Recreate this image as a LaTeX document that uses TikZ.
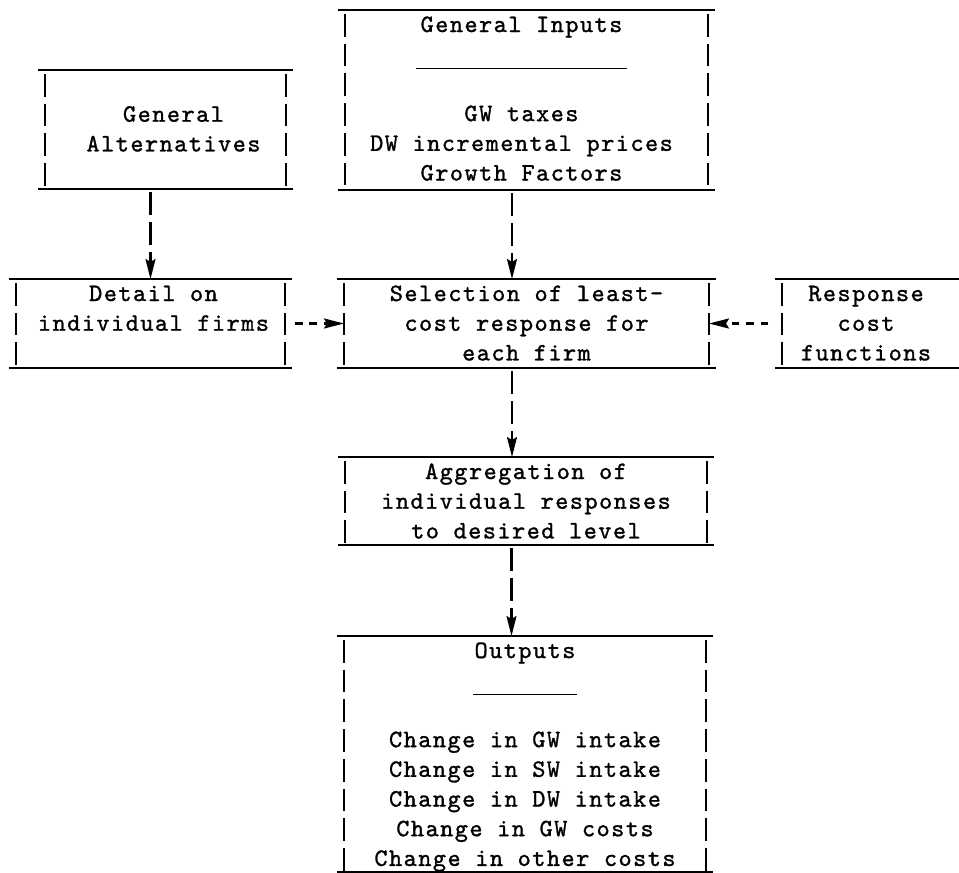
\documentclass[tikz,border=0pt]{standalone}
\usepackage{fontspec}
\newfontfamily\tw{lmmono10-regular.otf}[LetterSpace=6,FakeBold=1.2]
\usetikzlibrary{arrows.meta}
\tikzset{
  boxn/.style={rectangle, draw=none, inner sep=0pt, outer sep=0pt},
  txt/.style={font=\tw\fontsize{25}{29.7}\selectfont, inner sep=0pt, anchor=base},
  hline/.style={line width=1.3pt, black},
  vbar/.style={line width=1.8pt, black, dash pattern=on 22.7pt off 7pt},
  tip/.style={-{Stealth[length=20pt,width=10pt,inset=3pt]}},
  varrow/.style={tip, line width=2.2pt, dash pattern=on 23pt off 7pt, shorten <=3pt},
  harrow/.style={tip, line width=2.2pt, dash pattern=on 7.5pt off 6.8pt}
}
\newcommand\typebox[1]{%
  \draw[hline] ([xshift=-7pt]#1.north west) -- ([xshift=7pt]#1.north east);
  \draw[hline] ([xshift=-7pt]#1.south west) -- ([xshift=7pt]#1.south east);
  \draw[vbar] ([yshift=-4pt]#1.north west) -- (#1.south west);
  \draw[vbar] ([yshift=-4pt]#1.north east) -- (#1.south east);}
\begin{document}
\begin{tikzpicture}[x=1pt,y=-1pt]
\useasboundingbox (0,0) rectangle (959,873);
% boxes
\node[boxn, minimum width=241pt, minimum height=119pt] (ga) at (165.5,129.5) {};
\node[boxn, minimum width=363pt, minimum height=180pt] (gi) at (526.5,100) {};
\node[boxn, minimum width=269pt, minimum height=89pt] (det) at (150.5,323.5) {};
\node[boxn, minimum width=365pt, minimum height=89pt] (sel) at (526.5,323.5) {};
\node[boxn, minimum width=177pt, minimum height=89pt] (resp) at (870.5,323.5) {};
\node[boxn, minimum width=362pt, minimum height=88pt] (agg) at (526,501) {};
\node[boxn, minimum width=362pt, minimum height=236pt] (out) at (525,754) {};
\typebox{ga}
\typebox{gi}
\typebox{det}
\typebox{sel}
\typebox{agg}
\typebox{out}
\draw[hline] ([xshift=-7pt]resp.north west) -- (resp.north east);
\draw[hline] ([xshift=-7pt]resp.south west) -- (resp.south east);
\draw[vbar] ([yshift=-4pt]resp.north west) -- (resp.south west);
% texts
\node[txt] (ga-t) at ([xshift=8pt,yshift=-51.7pt]ga.north) {\begin{tabular}[t]{@{}c@{}}General\\Alternatives\end{tabular}};
\node[txt] (gi-t) at ([xshift=-5pt,yshift=-22pt]gi.north) {\begin{tabular}[t]{@{}c@{}}General Inputs\\\rule[-7.5pt]{211pt}{1.3pt}\\ \\GW taxes\\DW incremental prices\\Growth Factors\end{tabular}};
\node[txt] (det-t) at ([xshift=3pt,yshift=-22pt]det.north) {\begin{tabular}[t]{@{}c@{}}Detail on\\individual firms\end{tabular}};
\node[txt] (sel-t) at ([yshift=-22pt]sel.north) {\begin{tabular}[t]{@{}c@{}}Selection of least-\\cost response for\\each firm\end{tabular}};
\node[txt] (resp-t) at ([xshift=-4.5pt,yshift=-22pt]resp.north) {\begin{tabular}[t]{@{}c@{}}Response\\cost\\functions\end{tabular}};
\node[txt] (agg-t) at ([yshift=-22pt]agg.north) {\begin{tabular}[t]{@{}c@{}}Aggregation of\\individual responses\\to desired level\end{tabular}};
\node[txt] (out-t) at ([yshift=-22pt]out.north) {\begin{tabular}[t]{@{}c@{}}Outputs\\\rule[-7.5pt]{104pt}{1.3pt}\\ \\Change in GW intake\\Change in SW intake\\Change in DW intake\\Change in GW costs\\Change in other costs\end{tabular}};
% connectors
\draw[varrow] (ga.south -| det.north) -- (det.north);
\draw[varrow] ([xshift=-14.5pt]gi.south) -- ([xshift=-14.5pt]sel.north);
\draw[varrow] ([xshift=-14.5pt]sel.south) -- ([xshift=-14.5pt]sel.south |- agg.north);
\draw[varrow] ([xshift=-14.5pt]agg.south) -- ([xshift=-14.5pt]agg.south |- out.north);
\draw[harrow, shorten <=10pt] (det.east) -- (sel.west);
\draw[harrow, shorten <=14pt] (resp.west) -- (sel.east);
\end{tikzpicture}
\end{document}
